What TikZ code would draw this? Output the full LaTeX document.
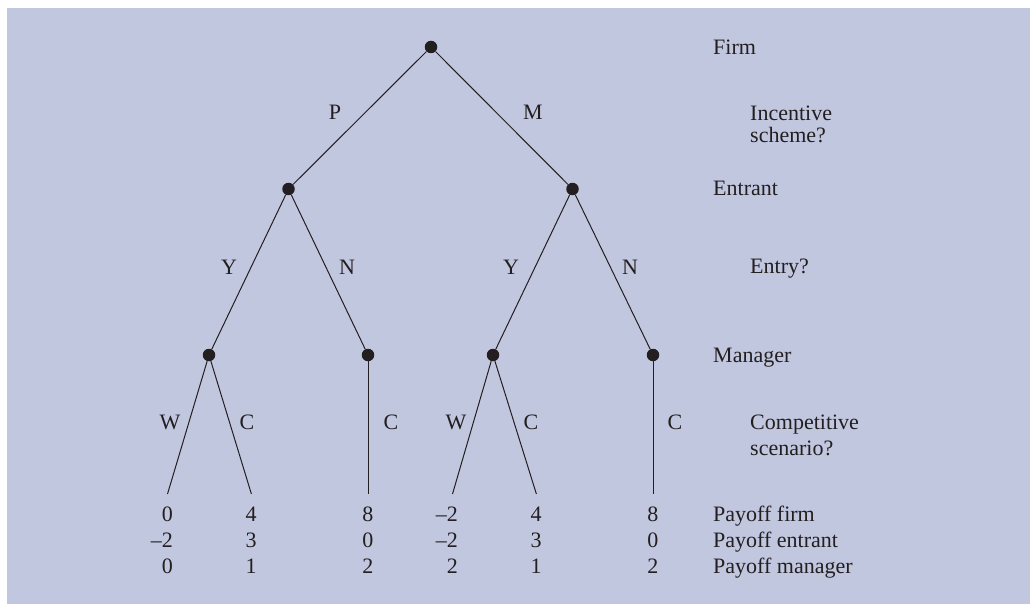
\documentclass[tikz,border=0pt]{standalone}
\usepackage{fontspec}
\setmainfont{Liberation Serif}
\definecolor{panel}{HTML}{C2C7E0}
\definecolor{ink}{HTML}{231F20}
\begin{document}
\begin{tikzpicture}[x=1pt,y=-1pt,
  every node/.style={text=ink,font=\fontsize{22}{25}\selectfont,inner sep=0pt},
  dot/.style={circle,fill=ink,minimum size=12.5pt,inner sep=0pt},
  branch/.style={draw=ink,line width=1pt},
  choice/.style={anchor=base},
  side/.style={anchor=base west,align=left},
  pay/.style={anchor=base east}]
% panel
\fill[white] (0,0) rectangle (1030,604);
\fill[panel] (7,8) rectangle (1030,604);
\useasboundingbox (0,0) rectangle (1030,604);

% decision nodes
\node[dot] (root) at (431,47) {};
\node[dot] (p) at (288.5,189) {};
\node[dot] (m) at (572.5,189) {};
\node[dot] (py) at (209,355) {};
\node[dot] (pn) at (368,355) {};
\node[dot] (my) at (493,355) {};
\node[dot] (mn) at (653,355) {};

% terminal points
\coordinate (t1) at (167.5,494);
\coordinate (t2) at (251.4,494);
\coordinate (t3) at (368,494);
\coordinate (t4) at (452.5,494);
\coordinate (t5) at (536.4,494);
\coordinate (t6) at (653,494);

% branches
\draw[branch] (root) -- (p);
\draw[branch] (root) -- (m);
\draw[branch] (p) -- (py);
\draw[branch] (p) -- (pn);
\draw[branch] (m) -- (my);
\draw[branch] (m) -- (mn);
\draw[branch] (py) -- (t1);
\draw[branch] (py) -- (t2);
\draw[branch] (pn) -- (t3);
\draw[branch] (my) -- (t4);
\draw[branch] (my) -- (t5);
\draw[branch] (mn) -- (t6);

% branch labels
\node[choice] (lP) at (335,120) {P};
\node[choice] (lM) at (533,120) {M};
\node[choice] (lY1) at (229,274) {Y};
\node[choice] (lN1) at (347,274) {N};
\node[choice] (lY2) at (511,274) {Y};
\node[choice] (lN2) at (630,274) {N};
\node[choice] (lW1) at (170,429) {W};
\node[choice] (lC1) at (247,429) {C};
\node[choice] (lC2) at (391,429) {C};
\node[choice] (lW2) at (456,429) {W};
\node[choice] (lC3) at (531,429) {C};
\node[choice] (lC4) at (675,429) {C};

% stage labels (multi-line ones are placed by their last baseline)
\node[side] (sFirm) at (713,55) {Firm};
\node[side] (sInc) at (750,143) {Incentive\\[-3pt]scheme?};
\node[side] (sEnt) at (713,196) {Entrant};
\node[side] (sEntry) at (750,273) {Entry?};
\node[side] (sMan) at (713,362) {Manager};
\node[side] (sComp) at (750,455) {Competitive\\[1pt]scenario?};

% payoffs
\node[side] (payF) at (713,521) {Payoff firm};
\node[side] (payE) at (713,547) {Payoff entrant};
\node[side] (payM) at (713,573) {Payoff manager};

\foreach \n/\x/\a/\b/\c in {1/167.5/0/{\textendash}2/0, 2/251.4/4/3/1, 3/368/8/0/2,
    4/452.5/{\textendash}2/{\textendash}2/2, 5/536.4/4/3/1, 6/653/8/0/2}{
  \node[pay] (f\n) at (\x+5.5,521) {\a};
  \node[pay] (e\n) at (\x+5.5,547) {\b};
  \node[pay] (g\n) at (\x+5.5,573) {\c};
}
\end{tikzpicture}
\end{document}
